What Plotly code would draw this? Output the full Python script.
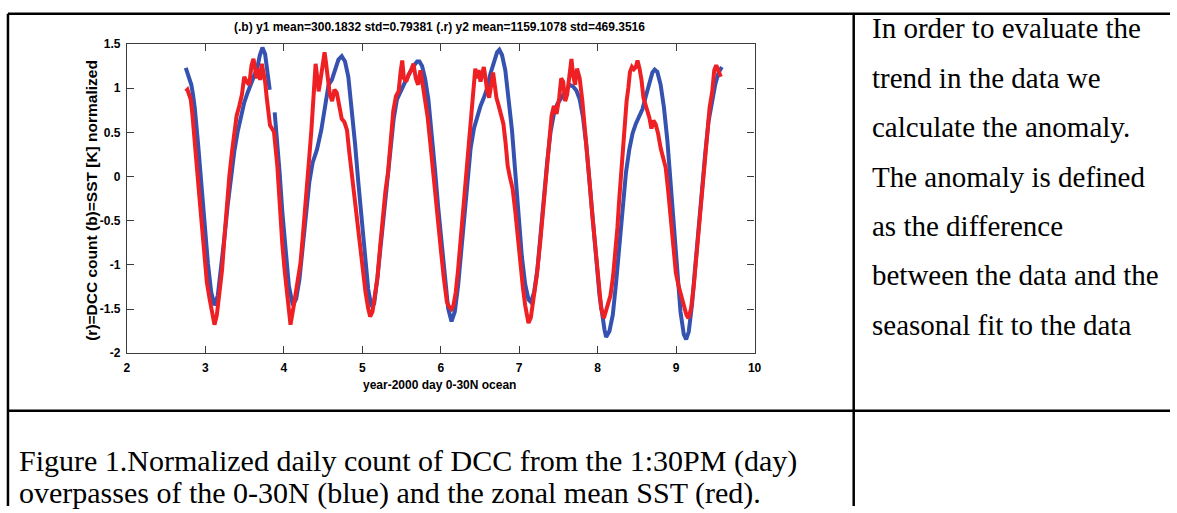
import plotly.graph_objects as go

# ---------------- data ----------------
blue_x = [2.750, 2.821, 2.842, 2.864, 2.906, 2.948, 2.990, 3.032, 3.074, 3.116, 3.158, 3.200, 3.243,
          3.285, 3.327, 3.369, 3.411, 3.453, 3.495, 3.537, 3.580, 3.622, 3.664, 3.693, 3.727, 3.761,
          3.790, 3.820, 3.850, 3.883, 3.917, 3.946, 3.980, 4.022, 4.064,
          4.115, 4.157, 4.199, 4.241, 4.283, 4.325, 4.367, 4.422, 4.477, 4.527, 4.570, 4.612, 4.654,
          4.696, 4.738, 4.780, 4.822, 4.864, 4.907, 4.949, 4.991, 5.033, 5.075, 5.117, 5.151, 5.193,
          5.235, 5.277, 5.319, 5.362, 5.400, 5.442, 5.484, 5.539, 5.589, 5.644, 5.699, 5.728, 5.762,
          5.800, 5.842, 5.884, 5.926, 5.968, 6.010, 6.052, 6.094,
          6.137, 6.179, 6.221, 6.255, 6.297, 6.339, 6.381, 6.423, 6.465, 6.507, 6.549, 6.592, 6.634,
          6.676, 6.718, 6.747, 6.781, 6.823, 6.865, 6.908, 6.950, 6.992, 7.034, 7.076, 7.118, 7.148,
          7.190, 7.232, 7.274, 7.316, 7.358, 7.400, 7.442, 7.485, 7.539, 7.594, 7.645, 7.687, 7.729,
          7.771, 7.813, 7.855, 7.897, 7.940, 7.982, 8.024,
          8.087, 8.108, 8.150, 8.193, 8.235, 8.277, 8.319, 8.361, 8.403, 8.445, 8.487, 8.530, 8.572,
          8.614, 8.656, 8.698, 8.727, 8.761, 8.803, 8.845, 8.888, 8.930, 8.972, 9.014, 9.056, 9.098,
          9.128, 9.161, 9.204, 9.246, 9.288, 9.330, 9.372, 9.414, 9.456, 9.498, 9.541, 9.583]
blue_y = [1.229, 1.038, 0.928, 0.781, 0.377, -0.100, -0.540, -0.980, -1.310, -1.457, -1.347, -1.053, -0.686,
          -0.320, 0.011, 0.286, 0.506, 0.689, 0.836, 0.946, 1.038, 1.129, 1.240, 1.368, 1.460, 1.386,
          1.221, 0.983, None, 0.726, 0.414, 0.047, -0.393, -0.870, -1.237,
          -1.457, -1.383, -1.163, -0.796, -0.393, -0.063, 0.157, 0.304, 0.524, 0.799, 1.038, 1.093, 1.221,
          1.324, 1.361, 1.302, 1.129, 0.799, 0.377, -0.063, -0.503, -0.906, -1.273, -1.475, -1.438, -1.145,
          -0.760, -0.393, -0.026, 0.359, 0.653, 0.873, 0.964, 1.056, 1.148, 1.240, 1.302, 1.302, 1.251,
          1.111, 0.873, 0.524, 0.084, -0.356, -0.760, -1.163, -1.493,
          -1.640, -1.530, -1.237, -0.906, -0.466, -0.026, 0.322, 0.543, 0.689, 0.799, 0.891, 1.001, 1.166,
          1.302, 1.405, 1.434, 1.375, 1.203, 0.909, 0.524, 0.047, -0.466, -0.906, -1.218, -1.391, -1.420,
          -1.310, -1.053, -0.631, -0.191, 0.176, 0.506, 0.708, 0.818, 0.891, 0.972, 1.038, 1.019, 0.972,
          0.873, 0.671, 0.359, -0.081, -0.558, -0.998, -1.347,
          -1.732, -1.816, -1.750, -1.567, -1.200, -0.760, -0.320, 0.047, 0.304, 0.488, 0.598, 0.671, 0.763,
          0.909, 1.056, 1.177, 1.210, 1.184, 1.038, 0.781, 0.414, -0.100, -0.613, -1.127, -1.530, -1.787,
          -1.842, -1.757, -1.438, -0.998, -0.558, -0.136, 0.268, 0.627, 0.854, 1.038, 1.177, 1.240]

red_x = [2.750, 2.771, 2.792, 2.813, 2.834, 2.855, 2.876, 2.897, 2.918, 2.944, 2.969, 2.994, 3.019,
         3.053, 3.087, 3.116, 3.146, 3.179, 3.213, 3.243, 3.272, 3.306, 3.340, 3.369, 3.398, 3.432,
         3.466, 3.495, 3.525, 3.559, 3.588, 3.613, 3.634, 3.655, 3.676, 3.698, 3.719, 3.740, 3.761,
         3.782, 3.803, 3.824, 3.874, 3.896, 3.917, 3.938, 3.959, 3.980, 4.009, 4.039, 4.064,
         4.085, 4.127, 4.169, 4.212, 4.241, 4.275, 4.300, 4.325, 4.351, 4.372, 4.388, 4.405, 4.422,
         4.443, 4.464, 4.485, 4.506, 4.519, 4.536, 4.557, 4.586, 4.616, 4.645, 4.675, 4.704, 4.738,
         4.772, 4.805, 4.835, 4.864, 4.898, 4.932, 4.970, 5.008, 5.041, 5.075, 5.100, 5.130, 5.159,
         5.193, 5.227, 5.260, 5.294, 5.328, 5.362, 5.395, 5.429, 5.463, 5.488, 5.509, 5.530, 5.560,
         5.589, 5.623, 5.652, 5.682, 5.711, 5.741, 5.770, 5.800, 5.833, 5.867, 5.901, 5.934, 5.968,
         6.002, 6.036, 6.069,
         6.078, 6.107, 6.137, 6.162, 6.191, 6.221, 6.255, 6.288, 6.318, 6.347, 6.373, 6.398, 6.419,
         6.440, 6.461, 6.482, 6.507, 6.528, 6.549, 6.571, 6.592, 6.617, 6.642, 6.667, 6.688, 6.710,
         6.739, 6.768, 6.798, 6.827, 6.853, 6.882, 6.916, 6.950, 6.979, 7.013, 7.047, 7.076, 7.097,
         7.118, 7.148, 7.181, 7.223, 7.266, 7.308, 7.350, 7.384, 7.413, 7.442, 7.476, 7.510, 7.535,
         7.560, 7.586, 7.611, 7.636, 7.666, 7.687, 7.712, 7.737, 7.771, 7.805, 7.834, 7.864, 7.897,
         7.931, 7.965, 7.999, 8.032,
         8.045, 8.079, 8.121, 8.163, 8.197, 8.226, 8.252, 8.273, 8.294, 8.319, 8.344, 8.369, 8.391,
         8.412, 8.437, 8.462, 8.487, 8.508, 8.534, 8.559, 8.584, 8.610, 8.635, 8.660, 8.685, 8.711,
         8.740, 8.770, 8.803, 8.837, 8.867, 8.896, 8.930, 8.963, 8.997, 9.031, 9.065, 9.098, 9.132,
         9.157, 9.191, 9.225, 9.258, 9.292, 9.326, 9.360, 9.393, 9.427, 9.461, 9.486, 9.511, 9.541,
         9.570]
red_y = [0.964, 0.983, 0.928, 0.873, 0.708, 0.524, 0.304, 0.047, -0.173, -0.466, -0.723, -0.980, -1.200,
         -1.383, -1.567, -1.677, -1.567, -1.347, -1.053, -0.686, -0.320, 0.011, 0.286, 0.524, 0.689, 0.799,
         0.928, 1.129, 1.074, 1.038, 1.258, 1.331, 1.221, 1.111, 1.221, 1.093, 1.276, 1.184, 1.074,
         0.891, 0.708, 0.579, 0.506, 0.341, 0.121, -0.173, -0.503, -0.760, -1.053, -1.347, -1.548,
         -1.677, -1.457, -1.237, -0.980, -0.686, -0.356, -0.063, 0.231, 0.524, 0.854, 1.074, 1.276, 1.148,
         0.964, 1.074, 1.203, 1.368, 1.405, 1.295, 1.111, 0.928, 0.854, 0.983, 0.946, 0.781, 0.653,
         0.616, 0.524, 0.268, 0.047, -0.246, -0.540, -0.796, -1.053, -1.310, -1.493, -1.585, -1.530, -1.365,
         -1.145, -0.796, -0.466, -0.173, 0.047, 0.377, 0.744, 0.909, 0.964, 1.184, 1.313, 1.111, 1.074,
         1.148, 1.203, 1.276, 1.111, 1.038, 1.203, 1.038, 0.891, 0.671, 0.377, 0.047, -0.283, -0.576,
         -0.833, -1.127, -1.347,
         -1.420, -1.475, -1.501, -1.457, -1.310, -1.053, -0.686, -0.320, -0.026, 0.268, 0.561, 0.854, 1.074,
         1.221, 1.111, 1.203, 1.074, 1.184, 1.240, 1.111, 0.964, 0.891, 1.038, 1.177, 1.038, 0.891,
         0.799, 0.689, 0.598, 0.377, 0.121, -0.008, -0.136, -0.393, -0.686, -0.980, -1.255, -1.457, -1.596,
         -1.658, -1.596, -1.420, -1.127, -0.760, -0.356, 0.047, 0.377, 0.689, 0.799, 0.708, 0.891, 1.111,
         1.074, 0.854, 0.928, 1.111, 1.331, 1.148, 1.038, 1.221, 1.111, 0.854, 0.598, 0.268, -0.063,
         -0.430, -0.760, -1.090, -1.347,
         -1.493, -1.604, -1.464, -1.347, -1.127, -0.870, -0.576, -0.283, -0.026, 0.231, 0.561, 0.854, 1.001,
         1.184, 1.240, 1.214, 1.240, 1.313, 1.221, 1.093, 0.891, 0.818, 0.763, 0.664, 0.543, 0.634,
         0.590, 0.488, 0.322, 0.194, 0.102, -0.136, -0.503, -0.833, -1.090, -1.237, -1.347, -1.457, -1.567,
         -1.604, -1.493, -1.237, -0.906, -0.540, -0.173, 0.194, 0.524, 0.781, 0.964, 1.203, 1.258, 1.184,
         1.129]

x_ticks = [2, 3, 4, 5, 6, 7, 8, 9, 10]
y_ticks = [-2, -1.5, -1, -0.5, 0, 0.5, 1, 1.5]
y_tick_text = ["-2", "-1.5", "-1", "-0.5", "0", "0.5", "1", "1.5"]

chart_title = "(.b) y1 mean=300.1832 std=0.79381 (.r) y2 mean=1159.1078 std=469.3516"
x_title = "year-2000 day 0-30N ocean"
y_title = "(r)=DCC count (b)=SST [K] normalized"

side_text = ["In order to evaluate the", "trend in the data we", "calculate the anomaly.",
             "The anomaly is defined", "as the difference", "between the data and the",
             "seasonal fit to the data"]
caption_text = ["Figure 1.Normalized daily count of DCC from the 1:30PM (day)",
                "overpasses of the 0-30N (blue) and the zonal mean SST (red)."]

# ---------------- layout helpers ----------------
W, H = 1177, 513
def px(x):
    return x / W
def py(y):
    return 1 - y / H

PLOT_L, PLOT_R, PLOT_T, PLOT_B = 125, 758, 38, 356
SANS = "Liberation Sans, Arial, sans-serif"
SERIF = "Liberation Serif, Times New Roman, serif"
AX = "#3c3c3c"

fig = go.Figure()
fig.add_trace(go.Scatter(x=blue_x, y=blue_y, mode="lines", connectgaps=False,
                         line=dict(color="#3552b0", width=4), showlegend=False))
fig.add_trace(go.Scatter(x=red_x, y=red_y, mode="lines",
                         line=dict(color="#ee2024", width=4), showlegend=False))

tick_font = dict(family=SANS, size=12, color="black", weight="bold")
fig.update_layout(
    width=W, height=H, autosize=False,
    margin=dict(l=0, r=0, t=0, b=0),
    paper_bgcolor="white", plot_bgcolor="white",
    xaxis=dict(domain=[px(PLOT_L), px(PLOT_R)], range=[2, 10], tickvals=x_ticks,
               showgrid=False, zeroline=False, showline=True, linecolor=AX, linewidth=1.2,
               mirror="ticks", ticks="inside", ticklen=7, tickcolor=AX, tickwidth=1,
               ticklabelstandoff=3, tickfont=tick_font),
    yaxis=dict(domain=[py(PLOT_B), py(PLOT_T)], range=[-2, 1.5], tickvals=y_ticks,
               ticktext=y_tick_text,
               showgrid=False, zeroline=False, showline=True, linecolor=AX, linewidth=1.2,
               mirror="ticks", ticks="inside", ticklen=7, tickcolor=AX, tickwidth=1,
               ticklabelstandoff=3, tickfont=tick_font),
)

ann = []
ann.append(dict(text=chart_title, x=px(440), y=py(21), xref="paper", yref="paper",
                xanchor="center", yanchor="middle", showarrow=False,
                font=dict(family=SANS, size=12, color="black", weight="bold")))
ann.append(dict(text=x_title, x=px(440), y=py(389), xref="paper", yref="paper",
                xanchor="center", yanchor="middle", showarrow=False,
                font=dict(family=SANS, size=12, color="black", weight="bold")))
ann.append(dict(text=y_title, x=px(89), y=py(199), xref="paper", yref="paper",
                xanchor="center", yanchor="middle", showarrow=False, textangle=-90,
                font=dict(family=SANS, size=15.5, color="black", weight="bold")))
for i, t in enumerate(side_text):
    ann.append(dict(text=t, x=px(874), y=py(22 + 50.8 * i), xref="paper", yref="paper",
                    xanchor="left", yanchor="middle", showarrow=False,
                    font=dict(family=SERIF, size=29, color="black")))
for i, t in enumerate(caption_text):
    ann.append(dict(text=t, x=px(14), y=py(467 + 33 * i), xref="paper", yref="paper",
                    xanchor="left", yanchor="middle", showarrow=False,
                    font=dict(family=SERIF, size=30, color="black")))
fig.update_layout(annotations=ann)

# table borders
line_style = dict(color="black", width=2.5)
shapes = [
    dict(type="line", xref="paper", yref="paper", x0=px(5), x1=1.0, y0=py(7), y1=py(7), line=line_style),
    dict(type="line", xref="paper", yref="paper", x0=px(5), x1=px(5), y0=py(7), y1=0.0, line=line_style),
    dict(type="line", xref="paper", yref="paper", x0=px(858), x1=px(858), y0=py(7), y1=0.0, line=line_style),
    dict(type="line", xref="paper", yref="paper", x0=px(5), x1=1.0, y0=py(415), y1=py(415), line=line_style),
]
fig.update_layout(shapes=shapes)

fig.write_html("out.html", config={"displayModeBar": False},
               post_script="document.body.style.margin='0px';document.body.style.overflow='hidden';")
